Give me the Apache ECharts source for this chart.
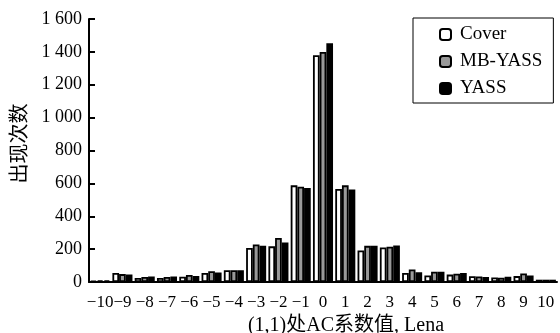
<!DOCTYPE html>
<html>
<head>
<meta charset="utf-8">
<script src="https://cdn.jsdelivr.net/npm/echarts@6/dist/echarts.min.js"></script>
<style>
html, body { margin: 0; padding: 0; background: #fff; }
#chart { width: 560px; height: 333px; }
</style>
</head>
<body>
<div id="chart"></div>
<script>
// AC系数值 (1,1) - Lena
var categories = ['−10', '−9', '−8', '−7', '−6', '−5', '−4', '−3', '−2', '−1', '0',
    '1', '2', '3', '4', '5', '6', '7', '8', '9', '10'];
var yTicks = [0, 200, 400, 600, 800, 1000, 1200, 1400, 1600];

var coverData  = [8, 55, 25, 25, 32, 55, 72, 207, 217, 588, 1380, 566, 192, 210, 55, 40, 45, 35, 28, 36, 14];
var mbYassData = [10, 48, 30, 30, 43, 65, 72, 228, 268, 580, 1400, 588, 220, 215, 76, 62, 50, 34, 26, 52, 14];
var yassData   = [10, 46, 34, 34, 37, 58, 72, 220, 240, 572, 1452, 562, 220, 222, 60, 62, 55, 30, 32, 40, 14];

var serif = '"Liberation Serif", "DejaVu Serif", "Noto Sans CJK SC", serif';

var myChart = echarts.init(document.getElementById('chart'));

function makeSeries(name, data, fill) {
    return {
        name: name,
        type: 'bar',
        data: data,
        barGap: '0%',
        barCategoryGap: '10%',
        itemStyle: {
            color: fill,
            borderColor: '#000',
            borderWidth: 1.8
        }
    };
}

var option = {
    backgroundColor: '#fff',
    animation: false,
    grid: {
        left: 89,
        right: 3,
        top: 19,
        bottom: 51,
        containLabel: false,
        outerBoundsMode: 'none'
    },
    legend: {
        orient: 'vertical',
        left: 413,
        top: 18,
        padding: [7, 11, 5, 26],
        itemGap: 8,
        itemWidth: 11,
        itemHeight: 11,
        borderColor: '#000',
        borderWidth: 1,
        backgroundColor: '#fff',
        textStyle: {
            fontFamily: serif,
            fontSize: 19,
            color: '#000',
            padding: [0, 0, 0, 4]
        },
        data: ['Cover', 'MB-YASS', 'YASS']
    },
    xAxis: {
        type: 'category',
        data: categories,
        name: '(1,1)处AC系数值, Lena',
        nameLocation: 'middle',
        nameGap: 32,
        nameTextStyle: {
            fontFamily: serif,
            fontSize: 20,
            color: '#000',
            padding: [0, 0, 0, 46]
        },
        axisLine: { lineStyle: { color: '#000', width: 2 } },
        axisTick: { show: false },
        axisLabel: {
            interval: 0,
            fontFamily: serif,
            fontSize: 17,
            color: '#000',
            margin: 12
        }
    },
    yAxis: {
        type: 'value',
        min: 0,
        max: 1600,
        interval: 200,
        name: '出现次数',
        nameLocation: 'middle',
        nameGap: 57,
        nameRotate: 90,
        nameTextStyle: {
            fontFamily: serif,
            fontSize: 20,
            color: '#000',
            padding: [0, 0, 0, 14]
        },
        splitLine: { show: false },
        axisLine: { show: true, lineStyle: { color: '#000', width: 2 } },
        axisTick: { show: true, inside: true, length: 6, lineStyle: { color: '#000', width: 2 } },
        axisLabel: {
            fontFamily: serif,
            fontSize: 18,
            color: '#000',
            margin: 7,
            formatter: function(v) {
                return String(v).replace(/\B(?=(\d{3})+(?!\d))/g, ' ');
            }
        }
    },
    series: [
        makeSeries('Cover', coverData, '#fff'),
        makeSeries('MB-YASS', mbYassData, '#999'),
        makeSeries('YASS', yassData, '#000')
    ]
};

myChart.setOption(option);

window.addEventListener('resize', function() {
    myChart.resize();
});
</script>
</body>
</html>
